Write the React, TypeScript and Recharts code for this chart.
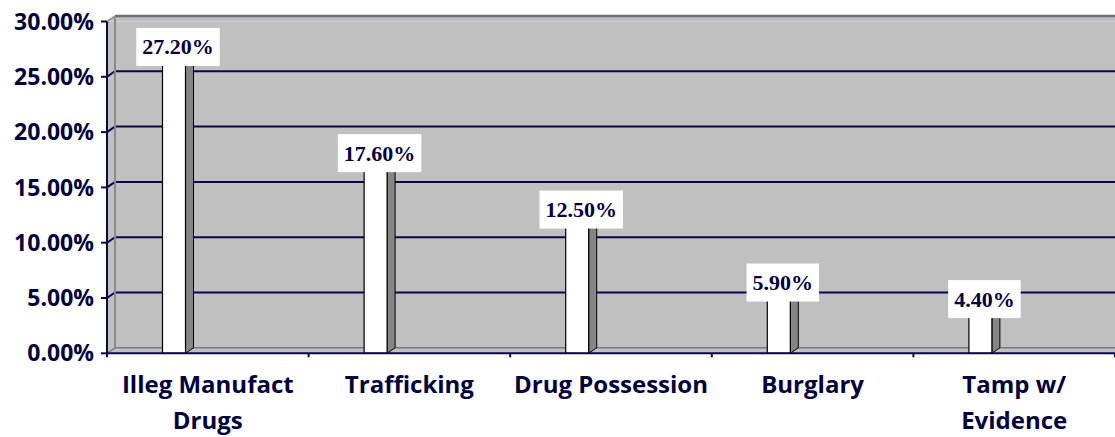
import { Bar, BarChart, CartesianGrid, LabelList, XAxis, YAxis } from "recharts";

const categories = [
  "Illeg Manufact\nDrugs",
  "Trafficking",
  "Drug Possession",
  "Burglary",
  "Tamp w/\nEvidence",
];
const shares = [0.272, 0.176, 0.125, 0.059, 0.044];
const yTicks = [0, 0.05, 0.1, 0.15, 0.2, 0.25, 0.3];

const data = categories.map((name, i) => ({ name, share: shares[i] }));

// layout
const W = 1115;
const H = 437;
const LEFT = 107;
const TOP = 21.5;
const BOTTOM = 353.3;
const BAND = (W - LEFT) / categories.length;
// fake 3d depth
const DX = 8;
const DY = 5.5;
const SHIFT = -33.5;

const NAVY = "#000040";
const GRID = "#07074c";
const WALL = "#C0C0C0";
const SANS = "'Open Sans', Lato, sans-serif";
const SERIF = "'Liberation Serif', 'Times New Roman', serif";

const pct = (v: number) => `${(v * 100).toFixed(2)}%`;

function GridLine(props: any) {
  const { x1, x2, y1 } = props;
  const bx = x1 + DX;
  const by = y1 - DY;
  if (Math.abs(y1 - TOP) < 1) {
    return (
      <g>
        <polygon points={`${x1},${y1} ${bx},${by} ${x2},${by} ${x2},${y1}`} fill={WALL} />
        <line x1={bx} y1={by} x2={x2} y2={by} stroke="#6e6e78" strokeWidth={2.5} />
        <line x1={x1} y1={y1} x2={bx} y2={by} stroke="#808080" strokeWidth={1.5} />
        <line x1={bx} y1={by} x2={bx} y2={BOTTOM - DY} stroke="#8a8a8a" strokeWidth={2} />
      </g>
    );
  }
  if (Math.abs(y1 - BOTTOM) < 1) {
    return (
      <g>
        <line x1={x1} y1={y1} x2={bx} y2={by} stroke="#808080" strokeWidth={1.5} />
        <line x1={bx} y1={by} x2={x2} y2={by} stroke="#767688" strokeWidth={1.5} />
      </g>
    );
  }
  return (
    <path
      d={`M${x1},${y1} L${bx},${by} L${x2},${by}`}
      fill="none"
      stroke={GRID}
      strokeWidth={2}
    />
  );
}

function Bar3D(props: any) {
  const { x, y, width, height } = props;
  if (height == null || height <= 0) return null;
  const l = x + SHIFT;
  const r = l + width;
  const b = y + height;
  return (
    <g>
      <polygon
        points={`${r},${y} ${r + DX},${y - DY} ${r + DX},${b - DY} ${r},${b}`}
        fill="#858585"
        stroke="#000"
        strokeWidth={1}
      />
      <polygon
        points={`${l},${y} ${l + DX},${y - DY} ${r + DX},${y - DY} ${r},${y}`}
        fill="#fff"
        stroke="#000"
        strokeWidth={1}
      />
      <rect x={l} y={y} width={width} height={height} fill="#fff" stroke="#000" strokeWidth={1.2} />
    </g>
  );
}

function ValueLabel(props: any) {
  const vb = props.viewBox ?? {};
  const x = props.x ?? vb.x;
  const y = props.y ?? vb.y;
  const width = props.width ?? vb.width;
  const text = pct(Number(props.value));
  const fs = 22;
  const tw =
    [...text].reduce((s, c) => s + (c === "%" ? 1 : c === "." ? 0.25 : 0.5), 0) * fs;
  const cx = x + SHIFT + width / 2 + DX / 2;
  const cy = y - DY;
  return (
    <g>
      <rect x={cx - tw / 2 - 6} y={cy - 19} width={tw + 12} height={38} fill="#fff" />
      <text
        x={cx}
        y={cy + 7.5}
        textAnchor="middle"
        fontFamily={SERIF}
        fontWeight="bold"
        fontSize={fs}
        fill={NAVY}
      >
        {text}
      </text>
    </g>
  );
}

function CategoryTick(props: any) {
  const { x, payload, index } = props;
  const lines = String(payload.value).split("\n");
  const edge = x + BAND / 2;
  return (
    <g>
      {index === 0 && (
        <line x1={x - BAND / 2} y1={BOTTOM} x2={x - BAND / 2} y2={BOTTOM + 4} stroke={GRID} strokeWidth={2} />
      )}
      <line x1={edge} y1={BOTTOM} x2={edge} y2={BOTTOM + 4} stroke={GRID} strokeWidth={2} />
      <text
        x={x}
        y={BOTTOM + 39.5}
        textAnchor="middle"
        fontFamily={SANS}
        fontWeight="bold"
        fontSize={24}
        fill={NAVY}
      >
        {lines.map((l, i) => (
          <tspan key={i} x={x} dy={i === 0 ? 0 : 36.5}>
            {l}
          </tspan>
        ))}
      </text>
    </g>
  );
}

export default function App() {
  return (
    <div style={{ position: "absolute", left: 0, top: 0, background: "#fff" }}>
      <BarChart
        width={W}
        height={H}
        data={data}
        margin={{ top: TOP, right: 0, bottom: 0, left: 0 }}
        barSize={23}
      >
        <CartesianGrid
          vertical={false}
          fill={WALL}
          fillOpacity={1}
          horizontal={GridLine}
        />
        <XAxis
          dataKey="name"
          height={H - BOTTOM}
          interval={0}
          axisLine={{ stroke: GRID, strokeWidth: 2 }}
          tickLine={false}
          tickSize={4}
          tickMargin={0}
          tick={CategoryTick}
        />
        <YAxis
          width={LEFT}
          domain={[0, 0.3]}
          ticks={yTicks}
          tickFormatter={pct}
          axisLine={{ stroke: GRID, strokeWidth: 2 }}
          tickLine={{ stroke: GRID, strokeWidth: 2 }}
          tickSize={6}
          tickMargin={7}
          tick={{ fill: NAVY, fontFamily: SANS, fontWeight: "bold", fontSize: 23 }}
        />
        <Bar dataKey="share" shape={Bar3D} isAnimationActive={false}>
          <LabelList dataKey="share" content={ValueLabel} />
        </Bar>
      </BarChart>
    </div>
  );
}
